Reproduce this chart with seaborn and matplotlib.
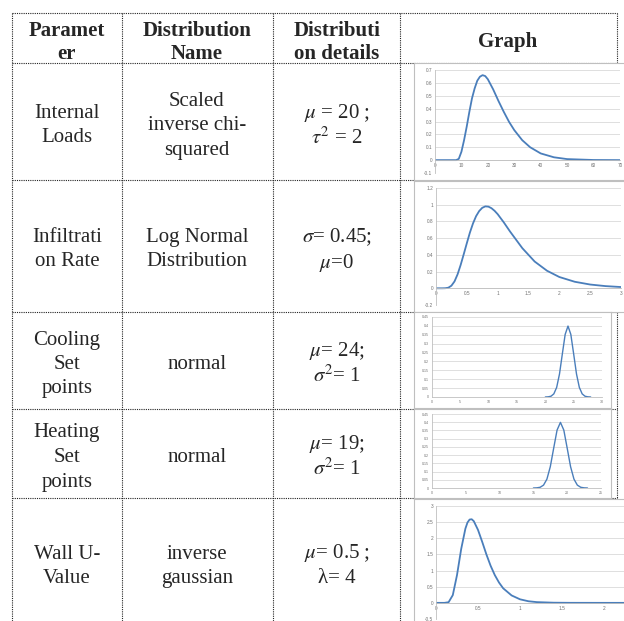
import matplotlib
matplotlib.use("Agg")
import matplotlib.pyplot as plt
import seaborn as sns

# ---- table text ----
header = [["Paramet", "er"], ["Distribution", "Name"], ["Distributi", "on details"], ["Graph"]]
parameters = [["Internal", "Loads"], ["Infiltrati", "on Rate"], ["Cooling", "Set", "points"],
              ["Heating", "Set", "points"], ["Wall U-", "Value"]]
dist_names = [["Scaled", "inverse chi-", "squared"], ["Log Normal", "Distribution"], ["normal"],
              ["normal"], ["inverse", "gaussian"]]
dist_details = [[r"$\mu$ = 20 ;", r"$\tau^2$ = 2"],
                [r"$\sigma$= 0.45;", r"$\mu$=0"],
                [r"$\mu$= 24;", r"$\sigma^2$= 1"],
                [r"$\mu$= 19;", r"$\sigma^2$= 1"],
                [r"$\mu$= 0.5 ;", "λ= 4"]]

# ---- curves ----
internal_x = [0, 5, 8, 9, 10, 11, 12, 13, 14, 15, 16, 17, 18, 19, 20, 22, 24, 26, 28, 30,
              33, 36, 40, 45, 50, 60, 70]
internal_y = [0, 0, 0, 0.01, 0.065, 0.155, 0.26, 0.375, 0.48, 0.557, 0.617, 0.648, 0.66, 0.653,
              0.628, 0.55, 0.46, 0.376, 0.298, 0.233, 0.155, 0.10, 0.052, 0.022, 0.008, 0.001, 0]

infil_x = [0, 0.1, 0.15, 0.2, 0.25, 0.3, 0.35, 0.4, 0.45, 0.5, 0.55, 0.6, 0.65, 0.7, 0.75, 0.8,
           0.85, 0.9, 0.95, 1.0, 1.1, 1.2, 1.4, 1.6, 1.8, 2.0, 2.25, 2.5, 2.75, 3.0]
infil_y = [0, 0, 0.001, 0.007, 0.031, 0.082, 0.167, 0.28, 0.408, 0.54, 0.667, 0.776, 0.863,
           0.924, 0.963, 0.98, 0.977, 0.958, 0.927, 0.887, 0.788, 0.68, 0.48, 0.32, 0.21,
           0.135, 0.078, 0.045, 0.026, 0.015]

cool_x = [20, 20.5, 21, 21.5, 22, 22.5, 23, 23.5, 24, 24.5, 25, 25.5, 26, 26.5, 27, 27.5, 28]
cool_y = [0.0001, 0.0009, 0.0044, 0.0175, 0.054, 0.1295, 0.242, 0.352, 0.399, 0.352, 0.242,
          0.1295, 0.054, 0.0175, 0.0044, 0.0009, 0.0001]

heat_x = [15, 15.5, 16, 16.5, 17, 17.5, 18, 18.5, 19, 19.5, 20, 20.5, 21, 21.5, 22, 22.5, 23]
heat_y = [0.0001, 0.0009, 0.0044, 0.0175, 0.054, 0.1295, 0.242, 0.352, 0.399, 0.352, 0.242,
          0.1295, 0.054, 0.0175, 0.0044, 0.0009, 0.0001]

wall_x = [0, 0.1, 0.15, 0.2, 0.25, 0.3, 0.35, 0.375, 0.4, 0.425, 0.45, 0.5, 0.55, 0.6, 0.65,
          0.7, 0.75, 0.8, 0.9, 1.0, 1.1, 1.2, 1.4, 1.6, 2.0, 2.5]
wall_y = [0, 0, 0.02, 0.24, 0.86, 1.67, 2.30, 2.49, 2.58, 2.59, 2.53, 2.26, 1.89, 1.50, 1.15,
          0.86, 0.63, 0.45, 0.23, 0.11, 0.05, 0.023, 0.005, 0.001, 0, 0]

# tick labels of each small graph
internal_xticks = [0, 10, 20, 30, 40, 50, 60, 70]
internal_yticks = [-0.1, 0, 0.1, 0.2, 0.3, 0.4, 0.5, 0.6, 0.7]
internal_ylabels = ["-0.1", "0", "0.1", "0.2", "0.3", "0.4", "0.5", "0.6", "0.7"]
infil_xticks = [0, 0.5, 1, 1.5, 2, 2.5, 3]
infil_xlabels = ["0", "0.5", "1", "1.5", "2", "2.5", "3"]
infil_yticks = [-0.2, 0, 0.2, 0.4, 0.6, 0.8, 1.0, 1.2]
infil_ylabels = ["-0.2", "0", "0.2", "0.4", "0.6", "0.8", "1", "1.2"]
cool_xticks = [0, 5, 10, 15, 20, 25, 30]
heat_xticks = [0, 5, 10, 15, 20, 25]
norm_yticks = [0, 0.05, 0.1, 0.15, 0.2, 0.25, 0.3, 0.35, 0.4, 0.45]
norm_ylabels = ["0", "0.05", "0.1", "0.15", "0.2", "0.25", "0.3", "0.35", "0.4", "0.45"]
wall_xticks = [0, 0.5, 1, 1.5, 2]
wall_xlabels = ["0", "0.5", "1", "1.5", "2"]
wall_yticks = [-0.5, 0, 0.5, 1, 1.5, 2, 2.5, 3]
wall_ylabels = ["-0.5", "0", "0.5", "1", "1.5", "2", "2.5", "3"]

W, H = 624, 621
BLUE = "#4A7EBB"

sns.set_style("white")
plt.rcParams["font.family"] = ["Liberation Serif", "DejaVu Serif"]
plt.rcParams["mathtext.fontset"] = "stix"


def px_box(x0, y0, x1, y1):
    return [x0 / W, 1 - y1 / H, (x1 - x0) / W, (y1 - y0) / H]


def cell_text(ax, xc, yc, lines, step, **kw):
    n = len(lines)
    for i, s in enumerate(lines):
        ax.text(xc, yc + (i - (n - 1) / 2) * step, s, ha="center", va="center_baseline", **kw)


fig = plt.figure(figsize=(W / 100, H / 100), dpi=100)
bg = fig.add_axes([0, 0, 1, 1])
bg.set_xlim(0, W)
bg.set_ylim(H, 0)
bg.axis("off")

# dotted table grid
col_x = [12, 122, 273, 400]
row_y = [13, 63, 180, 312, 409, 498]
dots = dict(colors="#222222", linestyles=(0, (1, 1)), lw=0.8)
for y in row_y:
    bg.hlines(y, 12, 617, **dots)
for x in col_x:
    bg.vlines(x, 13, 640, **dots)
bg.vlines(617, 13, 63, **dots)
bg.vlines(617, 312, 498, **dots)

# text
col_c = [67, 197, 337, 508]
for j, lines in enumerate(header):
    cell_text(bg, col_c[j], 40, lines, 23, fontsize=15, fontweight="bold")
row_c = [123, 247, 362, 455, 564]
for i in range(5):
    cell_text(bg, col_c[0], row_c[i], parameters[i], 24.5, fontsize=15)
    cell_text(bg, col_c[1], row_c[i], dist_names[i], 24.5, fontsize=15)
    det_c = {2: 362, 3: 455}.get(i, row_c[i])
    cell_text(bg, col_c[2], det_c - (1 if i > 1 else 0), dist_details[i], 26, fontsize=15)

# small graphs: (frame box, plot box, data, limits, ticks)
graphs = [
    ((414, 63, 640, 180), (435, 70, 620, 173), internal_x, internal_y, (0, 70), (-0.1, 0.7),
     internal_xticks, [str(t) for t in internal_xticks], internal_yticks, internal_ylabels, 3.4),
    ((414, 181, 640, 312), (436, 188, 621, 305), infil_x, infil_y, (0, 3), (-0.2, 1.2),
     infil_xticks, infil_xlabels, infil_yticks, infil_ylabels, 3.4),
    ((414, 312, 611, 408), (432, 317, 602, 397), cool_x, cool_y, (0, 30), (0, 0.45),
     cool_xticks, [str(t) for t in cool_xticks], norm_yticks, norm_ylabels, 2.6),
    ((414, 409, 611, 498), (432, 414, 601, 488), heat_x, heat_y, (0, 25), (0, 0.45),
     heat_xticks, [str(t) for t in heat_xticks], norm_yticks, norm_ylabels, 2.6),
    ((414, 499, 640, 640), (436, 506, 646, 619), wall_x, wall_y, (0, 2.5), (-0.5, 3),
     wall_xticks, wall_xlabels, wall_yticks, wall_ylabels, 3.4),
]

for frame, area, xs, ys, xl, yl, xt, xtl, yt, ytl, fs in graphs:
    fr = fig.add_axes(px_box(*frame))
    fr.set_facecolor("white")
    fr.set_xticks([])
    fr.set_yticks([])
    for sp in fr.spines.values():
        sp.set_color("#BFBFBF")
        sp.set_linewidth(0.8)

    ax = fig.add_axes(px_box(*area))
    ax.patch.set_alpha(0)
    sns.lineplot(x=xs, y=ys, ax=ax, color=BLUE, lw=1.3 if fs > 3 else 1.0)
    ax.set_xlim(*xl)
    ax.set_ylim(*yl)
    ax.set_xticks(xt)
    ax.set_xticklabels(xtl)
    ax.set_yticks(yt)
    ax.set_yticklabels(ytl)
    ax.set_xlabel("")
    ax.set_ylabel("")
    ax.yaxis.grid(True, color="#D9D9D9", lw=0.6)
    ax.set_axisbelow(True)
    ax.spines["top"].set_visible(False)
    ax.spines["right"].set_visible(False)
    ax.spines["left"].set_color("#BFBFBF")
    ax.spines["bottom"].set_color("#BFBFBF")
    ax.spines["left"].set_linewidth(0.6)
    ax.spines["bottom"].set_linewidth(0.6)
    ax.spines["bottom"].set_position(("data", 0))
    ax.tick_params(length=0, pad=2, labelsize=fs, labelcolor="#707070",
                   labelfontfamily="Liberation Sans")

fig.savefig("out.png", dpi=100)
